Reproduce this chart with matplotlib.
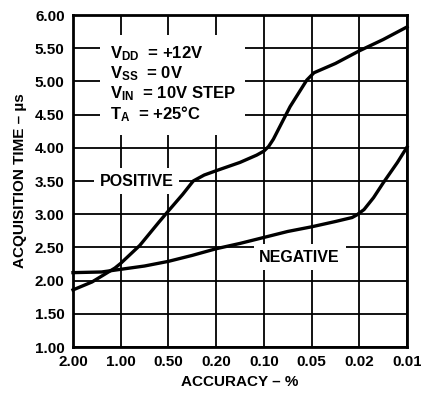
import matplotlib.pyplot as plt
from matplotlib.patches import Rectangle

plt.rcParams.update({
    'font.family': ['Liberation Sans', 'DejaVu Sans'],
    'font.weight': 'bold',
    'axes.labelweight': 'bold',
    'font.size': 11,
    'mathtext.fontset': 'custom',
    'mathtext.rm': 'Liberation Sans:bold',
    'mathtext.bf': 'Liberation Sans:bold',
    'mathtext.it': 'Liberation Sans:bold',
    'mathtext.default': 'bf',
})

# x axis: accuracy ticks are evenly spaced, positions are tick indices
accuracy_labels = ["2.00", "1.00", "0.50", "0.20", "0.10", "0.05", "0.02", "0.01"]
y_ticks = [1.0, 1.5, 2.0, 2.5, 3.0, 3.5, 4.0, 4.5, 5.0, 5.5, 6.0]

pos_x = [0.0, 0.4, 0.88, 1.0, 1.4, 1.8, 2.0, 2.3, 2.52, 2.75, 3.02, 3.5, 3.85,
         4.0, 4.1, 4.2, 4.55, 4.9, 5.05, 5.5, 6.0, 6.5, 7.0]
pos_y = [1.86, 1.98, 2.19, 2.26, 2.53, 2.88, 3.05, 3.30, 3.50, 3.59, 3.66, 3.78, 3.89,
         3.95, 4.02, 4.13, 4.62, 5.02, 5.13, 5.27, 5.46, 5.63, 5.82]

neg_x = [0.0, 0.6, 1.0, 1.5, 2.0, 2.5, 3.0, 3.5, 4.0, 4.5, 5.0, 5.5, 5.85,
         5.95, 6.1, 6.3, 6.5, 6.8, 7.0]
neg_y = [2.12, 2.13, 2.17, 2.22, 2.29, 2.38, 2.48, 2.56, 2.65, 2.74, 2.81, 2.89, 2.95,
         2.99, 3.07, 3.25, 3.47, 3.78, 4.01]

fig = plt.figure(figsize=(4.21, 3.99), dpi=100)
ax = fig.add_axes([0.1734, 0.1303, 0.7933, 0.8321])

ax.set_xlim(0, 7)
ax.set_ylim(1.0, 6.0)
ax.set_xticks(range(len(accuracy_labels)))
ax.set_xticklabels(accuracy_labels)
ax.set_yticks(y_ticks)
ax.set_yticklabels([f"{v:.2f}" for v in y_ticks])
ax.tick_params(length=0, pad=6)
ax.grid(True, color='black', linewidth=1.3, zorder=1)
for sp in ax.spines.values():
    sp.set_linewidth(2)

# white area behind the conditions block
ax.add_patch(Rectangle((0.57, 4.19), 3.03, 1.51, facecolor='white',
                       edgecolor='none', zorder=2))

ax.plot(pos_x, pos_y, color='black', linewidth=2.4, zorder=3, clip_on=False)
ax.plot(neg_x, neg_y, color='black', linewidth=2.4, zorder=3, clip_on=False)

cond = ["V$_{DD}$  = +12V", "V$_{SS}$  = 0V", "V$_{IN}$  = 10V STEP", "T$_{A}$  = +25°C"]
for i, s in enumerate(cond):
    ax.text(0.78, 5.42 - i * 0.305, s, fontsize=12, ha='left', va='center', zorder=4)

ax.text(1.33, 3.5, "POSITIVE", fontsize=11.5, ha='center', va='center', zorder=4,
        bbox=dict(facecolor='white', edgecolor='none', pad=4))
ax.text(4.75, 2.35, "NEGATIVE", fontsize=11.5, ha='center', va='center', zorder=4,
        bbox=dict(facecolor='white', edgecolor='none', pad=4))

ax.set_xlabel("ACCURACY – %", fontsize=11, labelpad=4)
ax.set_ylabel("ACQUISITION TIME – µs", fontsize=11, labelpad=6)

fig.savefig("out.png", dpi=100)
